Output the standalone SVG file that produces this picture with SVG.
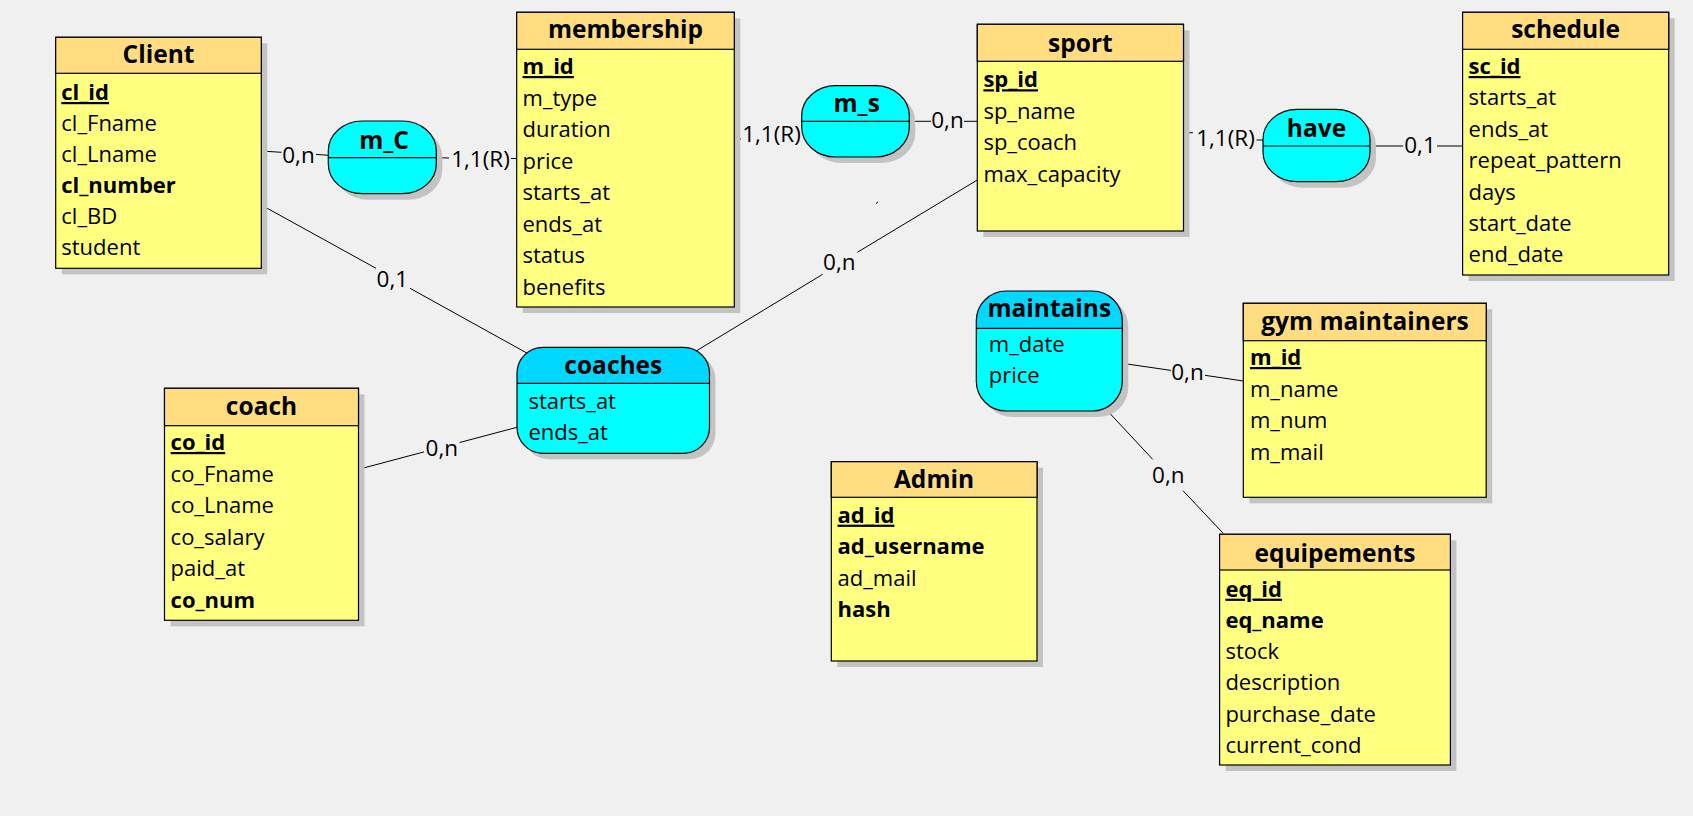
<svg xmlns="http://www.w3.org/2000/svg" width="1693" height="816" viewBox="0 0 1693 816">
<style>
.bg{fill:#F0F0F0}
.sh{fill:#C3C3C3}
.hd{fill:#FFDD80;stroke:#000;stroke-width:1.2}
.bd{fill:#FFFF80;stroke:#000;stroke-width:1.2}
.sep{stroke:#000;stroke-width:1.2}
.rel{fill:#00FFFF;stroke:#000;stroke-width:1.2}
.relh{fill:#00D8FF}
.t{font-family:"Open Sans","Noto Sans",sans-serif;font-size:24.5px;font-weight:bold;text-anchor:middle;fill:#000}
.a{font-family:"Open Sans","Noto Sans",sans-serif;font-size:22px;fill:#000}
.b{font-weight:bold}
.k{font-weight:bold;text-decoration:underline}
.lb{font-family:"Open Sans","Noto Sans",sans-serif;font-size:22.5px;text-anchor:middle;fill:#000}
.cn{stroke:#000;stroke-width:1;fill:none}
</style>
<defs>
<clipPath id="cpCoaches"><rect x="517" y="347.3" width="192.5" height="106" rx="26" ry="26"/></clipPath>
<clipPath id="cpMaint"><rect x="976.3" y="291" width="146" height="120" rx="30" ry="30"/></clipPath>
</defs>
<rect class="bg" x="0" y="0" width="1693" height="816"/>

<g id="connectors">
<line class="cn" x1="261.3" y1="151" x2="281.5" y2="152.3"/>
<line class="cn" x1="316" y1="154.4" x2="328.5" y2="155.3"/>
<line class="cn" x1="436.5" y1="157.7" x2="449" y2="158"/>
<line class="cn" x1="511" y1="158.5" x2="516.7" y2="158.5"/>
<line class="cn" x1="734.3" y1="139" x2="741" y2="139"/>
<line class="cn" x1="909.3" y1="121.3" x2="931" y2="121.3"/>
<line class="cn" x1="964" y1="121.3" x2="977.3" y2="121.3"/>
<line class="cn" x1="1183.5" y1="132.7" x2="1193" y2="132.7"/>
<line class="cn" x1="1256.5" y1="140" x2="1263" y2="140"/>
<line class="cn" x1="1370" y1="146" x2="1403" y2="146"/>
<line class="cn" x1="1437" y1="146" x2="1462.6" y2="146"/>
<line class="cn" x1="261.3" y1="205" x2="376" y2="268.3"/>
<line class="cn" x1="410" y1="288.3" x2="530.4" y2="355"/>
<line class="cn" x1="358.5" y1="469.3" x2="424" y2="451.9"/>
<line class="cn" x1="459.6" y1="442.5" x2="517" y2="427.3"/>
<line class="cn" x1="977.3" y1="180" x2="857.3" y2="252.3"/>
<line class="cn" x1="822.7" y1="274.3" x2="695" y2="351.7"/>
<line class="cn" x1="1122.3" y1="363.3" x2="1171" y2="370.4"/>
<line class="cn" x1="1205" y1="375.3" x2="1243.3" y2="381"/>
<line class="cn" x1="1103.6" y1="406.7" x2="1152.7" y2="459.3"/>
<line class="cn" x1="1183" y1="490.7" x2="1223.2" y2="533.3"/>
<line class="cn" x1="876" y1="203.5" x2="878" y2="202"/>
<text class="lb" x="298.5" y="162.7">0,n</text>
<text class="lb" x="480.5" y="166.7">1,1(R)</text>
<text class="lb" x="771.5" y="141.7">1,1(R)</text>
<text class="lb" x="947.5" y="128.3">0,n</text>
<text class="lb" x="1225.5" y="145.7">1,1(R)</text>
<text class="lb" x="1420" y="153.3">0,1</text>
<text class="lb" x="392.3" y="286.7">0,1</text>
<text class="lb" x="441.8" y="456">0,n</text>
<text class="lb" x="839.3" y="270">0,n</text>
<text class="lb" x="1187.5" y="380">0,n</text>
<text class="lb" x="1168.3" y="482.7">0,n</text>
</g>

<g id="client">
<rect class="sh" x="61.7" y="43.3" width="205.6" height="231"/>
<rect class="bd" x="55.7" y="37.3" width="205.6" height="231"/>
<rect class="hd" x="55.7" y="37.3" width="205.6" height="36"/>
<text class="t" x="158.5" y="63.3">Client</text>
<text class="a k" x="61.3" y="100">cl_id</text>
<text class="a" x="61.3" y="131">cl_Fname</text>
<text class="a" x="61.3" y="162">cl_Lname</text>
<text class="a b" x="61.3" y="193">cl_number</text>
<text class="a" x="61.3" y="224">cl_BD</text>
<text class="a" x="61.3" y="255">student</text>
</g>

<g id="membership">
<rect class="sh" x="522.7" y="18.3" width="217.6" height="294.7"/>
<rect class="bd" x="516.7" y="12.3" width="217.6" height="294.7"/>
<rect class="hd" x="516.7" y="12.3" width="217.6" height="37"/>
<text class="t" x="625.5" y="38.3">membership</text>
<text class="a k" x="522.5" y="74">m_id</text>
<text class="a" x="522.5" y="105.5">m_type</text>
<text class="a" x="522.5" y="137">duration</text>
<text class="a" x="522.5" y="168.5">price</text>
<text class="a" x="522.5" y="200">starts_at</text>
<text class="a" x="522.5" y="231.5">ends_at</text>
<text class="a" x="522.5" y="263">status</text>
<text class="a" x="522.5" y="294.5">benefits</text>
</g>

<g id="sport">
<rect class="sh" x="983.3" y="30.3" width="206.2" height="206.7"/>
<rect class="bd" x="977.3" y="24.3" width="206.2" height="206.7"/>
<rect class="hd" x="977.3" y="24.3" width="206.2" height="37"/>
<text class="t" x="1080.4" y="51.7">sport</text>
<text class="a k" x="983.4" y="87.3">sp_id</text>
<text class="a" x="983.4" y="118.8">sp_name</text>
<text class="a" x="983.4" y="150.3">sp_coach</text>
<text class="a" x="983.4" y="181.8">max_capacity</text>
</g>

<g id="schedule">
<rect class="sh" x="1468.6" y="18.3" width="206.1" height="262.7"/>
<rect class="bd" x="1462.6" y="12.3" width="206.1" height="262.7"/>
<rect class="hd" x="1462.6" y="12.3" width="206.1" height="37"/>
<text class="t" x="1565.6" y="38.3">schedule</text>
<text class="a k" x="1468.6" y="74">sc_id</text>
<text class="a" x="1468.6" y="105.4">starts_at</text>
<text class="a" x="1468.6" y="136.8">ends_at</text>
<text class="a" x="1468.6" y="168.2">repeat_pattern</text>
<text class="a" x="1468.6" y="199.6">days</text>
<text class="a" x="1468.6" y="231">start_date</text>
<text class="a" x="1468.6" y="262.4">end_date</text>
</g>

<g id="coach">
<rect class="sh" x="170.5" y="394.3" width="194" height="232"/>
<rect class="bd" x="164.5" y="388.3" width="194" height="232"/>
<rect class="hd" x="164.5" y="388.3" width="194" height="37.4"/>
<text class="t" x="261.5" y="415">coach</text>
<text class="a k" x="170.6" y="450">co_id</text>
<text class="a" x="170.6" y="481.5">co_Fname</text>
<text class="a" x="170.6" y="513">co_Lname</text>
<text class="a" x="170.6" y="544.5">co_salary</text>
<text class="a" x="170.6" y="576">paid_at</text>
<text class="a b" x="170.6" y="607.5">co_num</text>
</g>

<g id="admin">
<rect class="sh" x="837.3" y="467.7" width="205.7" height="199.3"/>
<rect class="bd" x="831.3" y="461.7" width="205.7" height="199.3"/>
<rect class="hd" x="831.3" y="461.7" width="205.7" height="35.6"/>
<text class="t" x="934" y="488.3">Admin</text>
<text class="a k" x="837.5" y="522.7">ad_id</text>
<text class="a b" x="837.5" y="554.2">ad_username</text>
<text class="a" x="837.5" y="585.7">ad_mail</text>
<text class="a b" x="837.5" y="617.2">hash</text>
</g>

<g id="gym-maintainers">
<rect class="sh" x="1249.3" y="309.3" width="242.9" height="194"/>
<rect class="bd" x="1243.3" y="303.3" width="242.9" height="194"/>
<rect class="hd" x="1243.3" y="303.3" width="242.9" height="37.4"/>
<text class="t" x="1365" y="330">gym maintainers</text>
<text class="a k" x="1250" y="365">m_id</text>
<text class="a" x="1250" y="396.5">m_name</text>
<text class="a" x="1250" y="428">m_num</text>
<text class="a" x="1250" y="459.5">m_mail</text>
</g>

<g id="equipements">
<rect class="sh" x="1225.6" y="540.3" width="230.8" height="230.7"/>
<rect class="bd" x="1219.6" y="534.3" width="230.8" height="230.7"/>
<rect class="hd" x="1219.6" y="534.3" width="230.8" height="35.7"/>
<text class="t" x="1335" y="561.7">equipements</text>
<text class="a k" x="1225.4" y="596.7">eq_id</text>
<text class="a b" x="1225.4" y="627.9">eq_name</text>
<text class="a" x="1225.4" y="659.1">stock</text>
<text class="a" x="1225.4" y="690.3">description</text>
<text class="a" x="1225.4" y="721.5">purchase_date</text>
<text class="a" x="1225.4" y="752.7">current_cond</text>
</g>

<g id="m_C">
<rect class="sh" x="334.3" y="127" width="108" height="72.7" rx="34" ry="30"/>
<rect class="rel" x="328.3" y="121" width="108" height="72.7" rx="34" ry="30"/>
<line class="sep" x1="328.3" y1="157.7" x2="436.3" y2="157.7"/>
<text class="t" x="384" y="149">m_C</text>
</g>

<g id="m_s">
<rect class="sh" x="807.7" y="91.7" width="107.6" height="71.3" rx="34" ry="30"/>
<rect class="rel" x="801.7" y="85.7" width="107.6" height="71.3" rx="34" ry="30"/>
<line class="sep" x1="801.7" y1="121.3" x2="909.3" y2="121.3"/>
<text class="t" x="856.7" y="111.7">m_s</text>
</g>

<g id="have">
<rect class="sh" x="1269" y="115.3" width="107" height="72.4" rx="34" ry="30"/>
<rect class="rel" x="1263" y="109.3" width="107" height="72.4" rx="34" ry="30"/>
<line class="sep" x1="1263" y1="146" x2="1370" y2="146"/>
<text class="t" x="1316.5" y="136.7">have</text>
</g>

<g id="coaches">
<rect class="sh" x="523" y="353.3" width="192.5" height="106" rx="26" ry="26"/>
<rect class="relh" x="517" y="347.3" width="192.5" height="106" rx="26" ry="26"/>
<rect x="517" y="383.3" width="192.5" height="70" fill="#00FFFF" clip-path="url(#cpCoaches)"/>
<rect x="517" y="347.3" width="192.5" height="106" rx="26" ry="26" fill="none" stroke="#000" stroke-width="1.2"/>
<line class="sep" x1="517" y1="383.3" x2="709.5" y2="383.3"/>
<text class="t" x="613.3" y="374.3">coaches</text>
<text class="a" x="528.4" y="409">starts_at</text>
<text class="a" x="528.4" y="440">ends_at</text>
</g>

<g id="maintains">
<rect class="sh" x="982.3" y="297" width="146" height="120" rx="30" ry="30"/>
<rect class="relh" x="976.3" y="291" width="146" height="120" rx="30" ry="30"/>
<rect x="976.3" y="328.3" width="146" height="83" fill="#00FFFF" clip-path="url(#cpMaint)"/>
<rect x="976.3" y="291" width="146" height="120" rx="30" ry="30" fill="none" stroke="#000" stroke-width="1.2"/>
<line class="sep" x1="976.3" y1="328.3" x2="1122.3" y2="328.3"/>
<text class="t" x="1049.3" y="317.3">maintains</text>
<text class="a" x="988.8" y="351.7">m_date</text>
<text class="a" x="988.8" y="383.3">price</text>
</g>
</svg>
